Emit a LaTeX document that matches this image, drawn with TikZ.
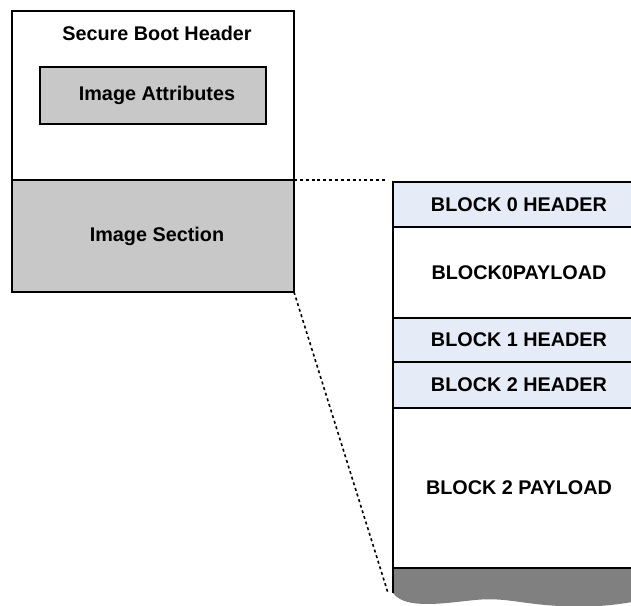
\documentclass[tikz,border=0pt]{standalone}
\usepackage{fontspec}
\setmainfont{Liberation Sans}
\usetikzlibrary{positioning}
\definecolor{hdrBlue}{HTML}{E6ECF7}
\definecolor{secGray}{HTML}{C8C8C8}
\definecolor{tailGray}{HTML}{808080}
\tikzset{
  lbl/.style      = {font=\fontsize{14.85}{17}\selectfont\bfseries},
  region/.style   = {rectangle, draw=black, line width=1.1pt,
                     outer sep=0pt, inner sep=0pt, lbl},
  blkhdr/.style   = {region, fill=hdrBlue, minimum width=189pt},
  blkpay/.style   = {region, fill=white, minimum width=189pt},
  zoomline/.style = {line width=1.2pt, dash pattern=on 2.2pt off 2.2pt}
}
\begin{document}
\begin{tikzpicture}[x=0.75pt, y=-0.75pt, node distance=0pt]
\useasboundingbox (0,0) rectangle (631,606);
% signed image on the left
\node[region, fill=white, minimum width=211.5pt, minimum height=126.75pt] (sbh) at (153,95.5) {};
\node[lbl] (sbhtext) at (157,33) {Secure Boot Header};
\node[region, fill=secGray, minimum width=169.5pt, minimum height=42.75pt] (attr) at (153,95.5) {\hspace*{6pt}Image Attributes};
\node[region, fill=secGray, minimum width=211.5pt, minimum height=84pt, below=of sbh] (sect) {\hspace*{6pt}Image Section};
% blocks of the image section
\node[blkhdr, minimum height=33.75pt] (b0h) at (519,204.5) {BLOCK 0 HEADER};
\node[blkpay, minimum height=68.25pt, below=of b0h] (b0p) {BLOCK0PAYLOAD};
\node[blkhdr, minimum height=33pt, below=of b0p] (b1h) {BLOCK 1 HEADER};
\node[blkhdr, minimum height=34.5pt, below=of b1h] (b2h) {BLOCK 2 HEADER};
\node[blkpay, minimum height=120pt, below=of b2h] (b2p) {BLOCK 2 PAYLOAD};
\coordinate (tailend) at (393,593);
\fill[tailGray] (b2p.south west) -- (b2p.south east) -- (645,600)
  .. controls (620,604) and (600,608) .. (560,606)
  .. controls (520,604) and (505,597) .. (475,600)
  .. controls (445,603) and (405,610) .. (tailend) -- cycle;
\draw[line width=1.1pt] (tailend) -- (b2p.south west) -- (b2p.south east);
% zoom lines
\coordinate (topend) at (386,180);
\coordinate (botend) at (388,593);
\draw[zoomline] (sect.north east) -- (topend);
\draw[zoomline] (sect.south east) -- (botend);
\end{tikzpicture}
\end{document}
